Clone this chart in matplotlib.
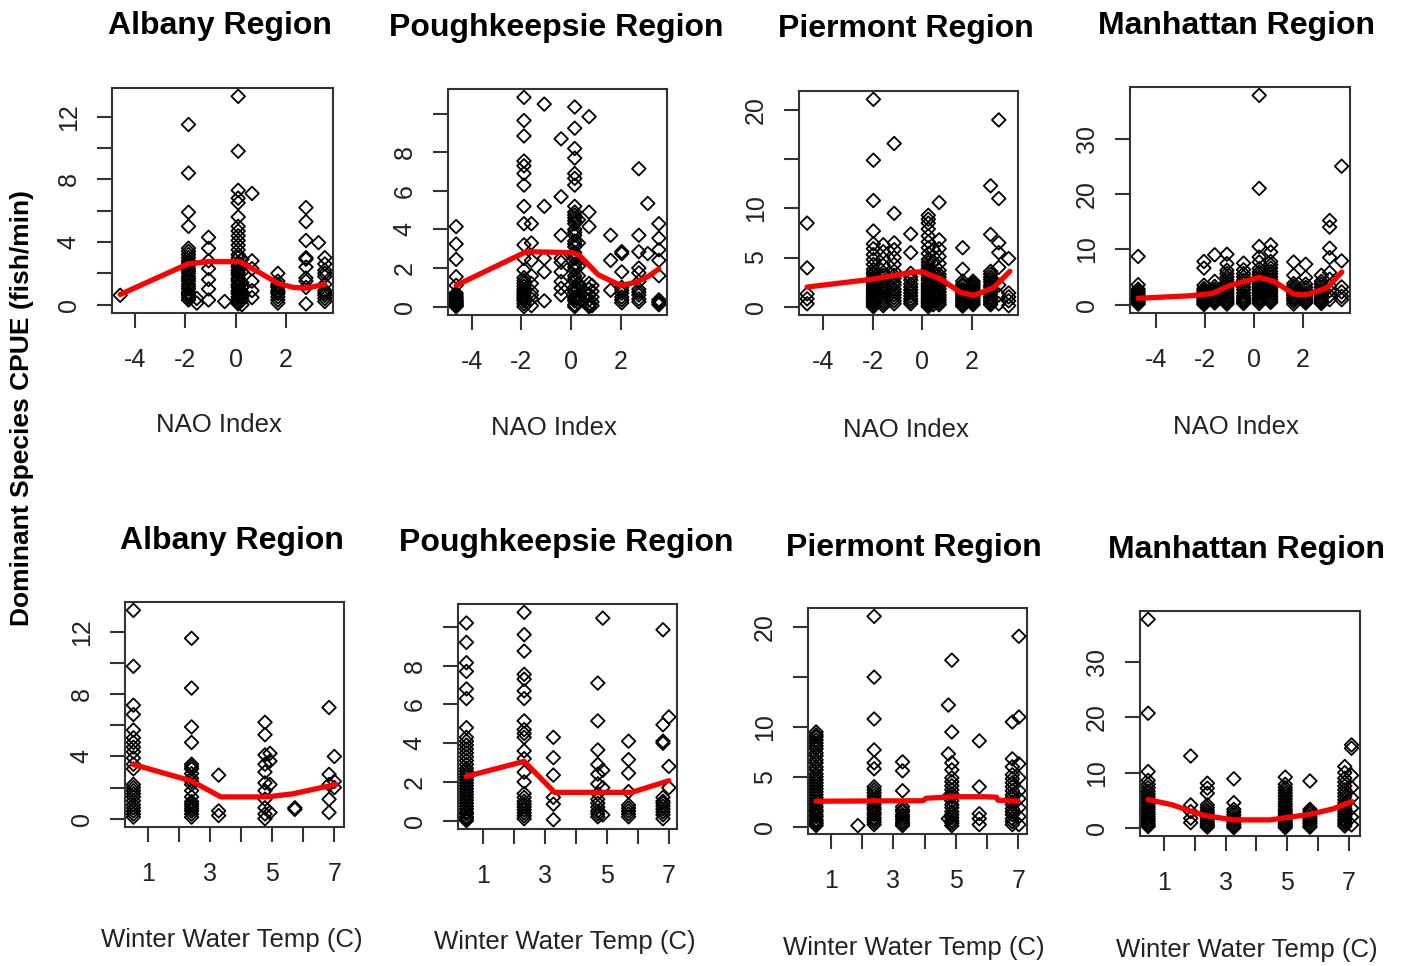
import numpy as np
import matplotlib
matplotlib.use("Agg")
import matplotlib.pyplot as plt

plt.rcParams['font.family'] = ['Liberation Sans', 'DejaVu Sans']

# ---------------------------------------------------------------------------
# CPUE by survey year, grouped on the year's NAO index / winter water temp

alb_nao_x = [-4.6, -1.88, -1.55, -1.08, -0.44, 0.1, 0.25, 0.65, 1.68, 2.8, 3.3, 3.55]
alb_nao_y = [[0.6],
             [11.5, 8.4, 5.9, 5.0, 3.6, 3.4, 3.2, 3.0, 2.8, 2.65, 2.5, 2.3, 2.15, 2.0, 1.8, 1.65, 1.5, 1.3,
              1.15, 1.0, 0.8, 0.7, 0.6, 0.45, 0.3],
             [0.1, 0.4],
             [4.3, 3.6, 2.8, 2.3, 1.6, 1.0, 0.3],
             [0.2],
             [13.3, 9.8, 7.3, 6.8, 6.5, 5.6, 5.0, 4.7, 4.4, 4.1, 3.8, 3.5, 3.2, 3.0, 2.7, 2.55, 2.4, 2.2, 2.05,
              1.9, 1.7, 1.6, 1.5, 1.3, 1.2, 1.1, 0.9, 0.8, 0.7, 0.5, 0.35, 0.2, 0.05],
             [2.9, 2.1, 1.4, 1.1, 0.8, 0.5, 0.3, 0.0],
             [7.1, 2.8, 2.3, 1.5, 0.9, 0.45],
             [2.0, 1.5, 1.3, 1.2, 1.1, 0.9, 0.8, 0.7, 0.5, 0.3, 0.1],
             [6.2, 5.3, 4.1, 3.0, 2.9, 2.4, 1.7, 1.5, 1.1, 0.05],
             [3.96],
             [3.0, 2.6, 2.2, 2.0, 1.8, 1.3, 0.9, 0.75, 0.6, 0.4, 0.2]]
alb_nao_fit_x = [-4.6, -1.9, -1.1, 0.15, 1.0, 1.7, 2.3, 2.8, 3.55]
alb_nao_fit_y = [0.65, 2.6, 2.75, 2.75, 2.0, 1.35, 1.1, 1.05, 1.3]

pok_nao_x = [-4.64, -1.9, -1.6, -1.08, -0.4, 0.15, 0.3, 0.73, 0.85, 1.6, 2.05, 2.74, 3.1, 3.55]
pok_nao_y = [[4.15, 3.25, 2.45, 1.55, 1.1, 0.7, 0.6, 0.5, 0.45, 0.35, 0.3, 0.25, 0.2, 0.15, 0.1, 0.05, 0.0],
             [10.85, 9.65, 8.85, 7.55, 7.3, 6.9, 6.3, 5.2, 4.3, 3.2, 2.5, 1.9, 1.5, 1.35, 1.2, 1.05, 0.9, 0.8,
              0.7, 0.6, 0.5, 0.4, 0.3, 0.15, 0.0],
             [4.3, 3.3, 2.4, 1.6, 1.2, 0.8, 0.6, 0.4, 0.05],
             [10.5, 5.2, 2.5, 1.8, 0.3],
             [8.7, 5.7, 3.7, 2.5, 2.3, 1.8, 1.3, 0.95, 0.6],
             [10.35, 9.25, 8.2, 7.7, 6.9, 6.65, 6.3, 5.2, 4.9, 4.75, 4.6, 4.45, 4.3, 4.0, 3.85, 3.7, 3.4, 3.25,
              3.1, 2.8, 2.65, 2.5, 2.2, 2.05, 1.9, 1.6, 1.45, 1.3, 1.0, 0.85, 0.75, 0.5, 0.4, 0.3, 0.1, 0.0],
             [4.5, 3.3, 2.1, 1.6, 1.2, 0.9, 0.6, 0.4, 0.2],
             [9.85, 4.9, 4.15, 1.2, 0.9, 0.6, 0.35, 0.1, 0.0],
             [1.1, 0.8, 0.5, 0.25, 0.05],
             [3.7, 2.4, 0.85],
             [2.85, 2.75, 1.8, 1.0, 0.85, 0.7, 0.5, 0.35, 0.2],
             [7.15, 3.7, 2.85, 2.0, 1.75, 1.3, 0.9, 0.75, 0.6, 0.4, 0.25],
             [5.35, 2.75],
             [4.3, 3.55, 2.95, 2.4, 1.6, 0.35, 0.25, 0.2, 0.1]]
pok_nao_fit_x = [-4.64, -1.8, 0.05, 0.35, 1.1, 2.0, 2.6, 3.1, 3.55]
pok_nao_fit_y = [1.1, 2.85, 2.8, 2.65, 1.65, 1.1, 1.25, 1.55, 1.95]

pie_nao_x = [-4.65, -1.97, -1.57, -1.13, -0.46, 0.25, 0.45, 0.69, 1.64, 2.06, 2.77, 3.1, 3.5]
pie_nao_y = [[8.5, 3.95, 1.3, 0.8, 0.3],
             [21.1, 14.9, 10.8, 7.7, 6.4, 5.9, 5.3, 4.8, 4.3, 3.8, 3.5, 3.3, 3.0, 2.8, 2.6, 2.4, 2.2, 2.0,
              1.8, 1.6, 1.4, 1.2, 1.0, 0.8, 0.65, 0.5, 0.35, 0.2, 0.0],
             [6.3, 5.6, 4.9, 4.2, 3.5, 3.2, 2.9, 2.6, 2.3, 2.0, 1.7, 1.4, 1.1, 0.85, 0.6, 0.35, 0.1],
             [16.6, 9.5, 6.5, 5.8, 5.0, 4.3, 3.6, 3.2, 2.9, 2.5, 2.2, 1.8, 1.5, 1.2, 0.9, 0.6, 0.3],
             [7.4, 5.5, 3.4, 3.0, 2.7, 2.3, 2.0, 1.7, 1.4, 1.1, 0.8, 0.55, 0.3],
             [9.3, 8.9, 8.5, 7.9, 7.2, 6.6, 6.0, 5.4, 4.8, 4.5, 4.2, 3.9, 3.7, 3.4, 3.2, 2.9, 2.7, 2.4,
              2.2, 2.0, 1.8, 1.6, 1.4, 1.2, 1.0, 0.8, 0.6, 0.45, 0.3, 0.15, 0.0],
             [5.8, 4.6, 3.5, 2.6, 1.9, 1.2, 0.6, 0.2],
             [10.6, 6.8, 5.9, 5.1, 4.4, 3.7, 3.3, 3.0, 2.7, 2.4, 2.1, 1.8, 1.5, 1.2, 0.95, 0.7, 0.45, 0.2],
             [6.0, 3.8, 2.6, 2.3, 2.1, 1.8, 1.6, 1.4, 1.2, 1.0, 0.8, 0.6, 0.4, 0.2, 0.05],
             [2.6, 2.4, 2.2, 2.0, 1.8, 1.6, 1.4, 1.2, 1.0, 0.8, 0.6, 0.4, 0.2],
             [12.3, 7.35, 3.6, 3.3, 3.0, 2.75, 2.5, 2.2, 2.0, 1.75, 1.5, 1.25, 1.0, 0.8, 0.6, 0.4, 0.2],
             [19.0, 11.0, 6.5, 5.5, 4.0, 2.2, 1.2, 0.3],
             [4.9, 1.4, 1.0, 0.6, 0.1]]
pie_nao_fit_x = [-4.65, -2.0, -0.4, 0.0, 0.75, 1.55, 2.1, 2.9, 3.55]
pie_nao_fit_y = [2.0, 2.8, 3.5, 3.55, 2.8, 1.45, 1.15, 1.95, 3.6]

man_nao_x = [-4.73, -2.04, -1.6, -1.1, -0.42, 0.22, 0.69, 1.63, 2.12, 2.76, 3.1, 3.59]
man_nao_y = [[8.7, 3.6, 2.8, 2.4, 2.0, 1.7, 1.4, 1.1, 0.9, 0.6, 0.4, 0.1],
             [7.8, 6.6, 3.5, 2.9, 2.6, 2.3, 2.0, 1.8, 1.5, 1.2, 0.9, 0.7, 0.5, 0.3, 0.0],
             [9.0, 4.2, 3.3, 2.8, 2.4, 2.0, 1.6, 1.2, 0.9, 0.6, 0.3],
             [9.1, 7.4, 6.2, 5.6, 5.0, 4.5, 4.0, 3.5, 3.0, 2.6, 2.2, 1.8, 1.4, 1.0, 0.7, 0.4, 0.1],
             [7.5, 6.3, 5.6, 5.0, 4.4, 3.8, 3.2, 2.7, 2.1, 1.6, 1.2, 0.8, 0.5, 0.2],
             [37.8, 21.0, 10.5, 8.6, 7.7, 6.5, 5.9, 5.4, 4.9, 4.5, 4.0, 3.6, 3.2, 2.8, 2.4, 2.0, 1.6, 1.2,
              0.9, 0.6, 0.2],
             [10.8, 9.5, 7.8, 7.2, 6.6, 6.0, 5.5, 5.0, 4.5, 4.0, 3.6, 3.1, 2.7, 2.3, 1.9, 1.5, 1.1, 0.7, 0.4],
             [7.7, 5.3, 3.8, 3.3, 2.9, 2.5, 2.1, 1.7, 1.3, 1.0, 0.6, 0.1],
             [7.3, 4.9, 3.7, 3.1, 2.6, 2.1, 1.7, 1.3, 0.9, 0.6, 0.3],
             [5.3, 4.2, 3.7, 3.2, 2.7, 2.3, 1.9, 1.5, 1.1, 0.8, 0.5, 0.2],
             [15.2, 14.0, 10.2, 8.5, 5.8, 4.6, 3.4, 2.5, 1.6, 0.9],
             [25.0, 7.9, 3.2, 2.3, 1.5, 0.9]]
man_nao_fit_x = [-4.73, -4.0, -2.6, -1.7, -0.95, 0.22, 0.83, 1.63, 2.17, 2.99, 3.6]
man_nao_fit_y = [1.15, 1.3, 1.6, 2.0, 3.5, 4.9, 4.2, 1.9, 1.8, 3.0, 5.9]

alb_temp_x = [0.54, 2.41, 3.28, 4.77, 4.93, 5.73, 6.83, 7.0]
alb_temp_y = [[13.4, 9.8, 7.3, 6.7, 5.7, 5.2, 4.9, 4.6, 4.3, 3.9, 3.5, 3.2, 2.2, 2.0, 1.8, 1.6, 1.4,
               1.15, 0.9, 0.7, 0.5, 0.3, 0.1],
              [11.6, 8.4, 5.9, 4.9, 3.5, 3.35, 3.2, 2.9, 2.6, 2.4, 2.2, 1.8, 1.4, 1.1, 0.95, 0.8, 0.65, 0.5,
               0.3, 0.1],
              [2.8, 0.5, 0.2],
              [6.2, 5.4, 4.1, 3.5, 3.0, 2.3, 1.8, 1.25, 0.7, 0.3, 0.0],
              [4.2, 3.7, 2.2, 0.4],
              [0.7, 0.6],
              [7.15, 2.85, 2.2, 1.25, 0.4],
              [4.0, 2.4, 2.0]]
alb_temp_fit_x = [0.53, 2.4, 3.35, 4.83, 5.67, 7.05]
alb_temp_fit_y = [3.49, 2.43, 1.4, 1.4, 1.6, 2.2]

pok_temp_x = [0.48, 2.34, 3.28, 4.71, 4.87, 5.7, 6.81, 7.0]
pok_temp_y = [[10.2, 9.2, 8.15, 7.7, 6.8, 6.3, 4.8, 4.3, 4.1, 3.9, 3.7, 3.5, 3.3, 3.1, 2.9, 2.7, 2.55, 2.4,
               2.25, 2.1, 1.95, 1.8, 1.65, 1.5, 1.35, 1.2, 1.05, 0.9, 0.75, 0.6, 0.45, 0.35, 0.2, 0.1, 0.0],
              [10.75, 9.6, 8.75, 7.55, 7.3, 6.7, 6.3, 5.15, 4.7, 4.5, 4.3, 3.6, 3.2, 2.5, 2.0, 1.4, 1.2,
               1.0, 0.85, 0.7, 0.55, 0.4, 0.25, 0.1],
              [4.3, 3.25, 2.35, 1.2, 0.85, 0.05],
              [7.1, 5.15, 3.65, 2.9, 2.4, 1.9, 1.4, 1.1, 0.9, 0.7, 0.5, 0.35, 0.2],
              [10.45, 2.6, 1.7, 0.3],
              [4.1, 3.15, 2.45, 1.5, 0.8, 0.65, 0.5, 0.35, 0.2],
              [9.85, 4.95, 4.1, 4.0, 1.2, 1.0, 0.9, 0.75, 0.6, 0.45, 0.3, 0.1],
              [5.35, 2.8, 1.7]]
pok_temp_fit_x = [0.47, 2.34, 3.32, 5.8, 7.0]
pok_temp_fit_y = [2.28, 3.06, 1.46, 1.46, 2.06]

pie_temp_x = [0.52, 1.86, 2.38, 3.29, 4.76, 4.87, 5.75, 6.81, 7.02]
pie_temp_y = [[9.5, 9.2, 9.0, 8.7, 8.4, 8.1, 7.8, 7.4, 7.1, 6.7, 6.4, 6.0, 5.7, 5.3, 5.0, 4.7, 4.4, 4.1,
               3.8, 3.5, 3.2, 2.9, 2.6, 2.3, 2.0, 1.7, 1.5, 1.2, 1.0, 0.7, 0.5, 0.3, 0.1],
              [0.1],
              [21.1, 15.0, 10.8, 7.7, 6.4, 5.8, 4.0, 3.7, 3.4, 3.1, 2.8, 2.5, 2.2, 1.9, 1.7, 1.4, 1.2, 0.9,
               0.7, 0.45, 0.2],
              [6.5, 5.6, 3.6, 2.0, 1.7, 1.5, 1.2, 1.0, 0.75, 0.5, 0.3, 0.1],
              [12.2, 7.3, 3.0, 0.8],
              [16.7, 9.5, 6.4, 5.7, 4.9, 4.5, 4.1, 3.7, 3.3, 3.0, 2.6, 2.2, 1.9, 1.5, 1.2, 0.9, 0.6, 0.35, 0.1],
              [8.6, 4.0, 1.3, 0.8, 0.2],
              [10.5, 6.8, 6.0, 5.2, 4.8, 4.4, 4.0, 3.6, 3.2, 2.9, 2.5, 2.2, 1.8, 1.5, 1.2, 0.8, 0.5, 0.2],
              [19.1, 11.0, 6.3, 4.9, 3.6, 2.8, 1.9, 1.0, 0.2]]
pie_temp_fit_x = [0.52, 3.95, 4.05, 5.0, 5.9, 6.3, 6.35, 7.0]
pie_temp_fit_y = [2.55, 2.6, 2.85, 3.0, 3.0, 2.95, 2.65, 2.55]

man_temp_x = [0.49, 1.87, 2.41, 3.27, 4.94, 5.74, 6.87, 7.09]
man_temp_y = [[37.6, 20.7, 10.2, 8.6, 7.9, 7.3, 6.7, 6.2, 5.7, 5.2, 4.7, 4.3, 3.8, 3.4, 2.9, 2.5, 2.1,
               1.7, 1.3, 0.9, 0.6, 0.3],
              [13.0, 4.2, 3.0, 1.8, 1.0],
              [8.1, 7.2, 6.3, 4.2, 3.7, 3.2, 2.8, 2.4, 2.0, 1.6, 1.2, 0.8, 0.5, 0.2],
              [8.9, 4.6, 3.4, 2.9, 2.4, 1.9, 1.5, 1.1, 0.7, 0.4, 0.1],
              [9.2, 7.9, 7.3, 6.8, 6.3, 5.8, 5.3, 4.8, 4.3, 3.9, 3.4, 3.0, 2.6, 2.2, 1.8, 1.4, 1.0, 0.7,
               0.4, 0.1],
              [8.5, 3.4, 3.0, 2.6, 2.1, 1.7, 1.3, 0.9, 0.5, 0.2],
              [11.1, 10.0, 9.0, 8.3, 7.6, 6.9, 6.3, 5.7, 5.1, 4.5, 4.0, 3.5, 3.0, 2.5, 2.1, 1.6, 1.2,
               0.8, 0.4],
              [15.0, 14.4, 9.5, 7.3, 5.5, 3.6, 2.0, 0.6]]
man_temp_fit_x = [0.49, 1.24, 2.3, 3.27, 4.45, 5.74, 6.5, 7.1]
man_temp_fit_y = [5.15, 4.25, 2.3, 1.5, 1.5, 2.5, 3.5, 4.8]

regions = ["Albany Region", "Poughkeepsie Region", "Piermont Region", "Manhattan Region"]

nao_ticks = [-4, -2, 0, 2]
nao_labels = ["-4", "-2", "0", "2"]
temp_ticks = [1, 2, 3, 4, 5, 6, 7]
temp_labels = ["1", "", "3", "", "5", "", "7"]

y_ticks = [[0, 2, 4, 6, 8, 10, 12], [0, 2, 4, 6, 8, 10], [0, 5, 10, 15, 20], [0, 10, 20, 30]]
y_labels = [["0", "", "4", "", "8", "", "12"], ["0", "2", "4", "6", "8", ""],
            ["0", "5", "10", "", "20"], ["0", "10", "20", "30"]]

# ---------------------------------------------------------------------------

W, H = 1403, 966
fig = plt.figure(figsize=(W / 100, H / 100), dpi=100)
TXT = '#222222'


def add_box(l, t, r, b):
    return fig.add_axes([l / W, 1 - b / H, (r - l) / W, (b - t) / H])


def put_text(x, y, s, **kw):
    fig.text(x / W, 1 - y / H, s, ha='center', va='center', **kw)


def draw_panel(ax, gx, gy, fx, fy, xt, xl, yt, yl):
    xs = np.concatenate([np.full(len(v), g) for g, v in zip(gx, gy)])
    ys = np.concatenate([np.asarray(v, float) for v in gy])
    ax.scatter(xs, ys, marker='D', s=48, facecolors='none', edgecolors='black',
               linewidths=1.3, zorder=2)
    ax.plot(fx, fy, color='#ff0000', lw=3.8, solid_capstyle='round', zorder=3)
    ax.margins(0.04)
    ax.set_xticks(xt)
    ax.set_xticklabels(xl)
    ax.set_yticks(yt)
    ax.set_yticklabels(yl, rotation=90, va='center')
    ax.tick_params(axis='both', length=10.5, width=1.5, color='#333333',
                   labelsize=18, labelcolor=TXT)
    ax.tick_params(axis='x', pad=15)
    ax.tick_params(axis='y', pad=12)
    for sp in ax.spines.values():
        sp.set_linewidth(1.5)
        sp.set_color('#333333')


boxes_top = [(112, 88, 333, 313), (448, 89, 667, 315), (799, 91, 1018, 315), (1130, 87, 1350, 313)]
boxes_bot = [(125, 602, 344, 827), (458, 604, 677, 829), (808, 608, 1027, 834), (1140, 611, 1360, 836)]

top_data = [(alb_nao_x, alb_nao_y, alb_nao_fit_x, alb_nao_fit_y),
            (pok_nao_x, pok_nao_y, pok_nao_fit_x, pok_nao_fit_y),
            (pie_nao_x, pie_nao_y, pie_nao_fit_x, pie_nao_fit_y),
            (man_nao_x, man_nao_y, man_nao_fit_x, man_nao_fit_y)]
bot_data = [(alb_temp_x, alb_temp_y, alb_temp_fit_x, alb_temp_fit_y),
            (pok_temp_x, pok_temp_y, pok_temp_fit_x, pok_temp_fit_y),
            (pie_temp_x, pie_temp_y, pie_temp_fit_x, pie_temp_fit_y),
            (man_temp_x, man_temp_y, man_temp_fit_x, man_temp_fit_y)]

for i in range(4):
    draw_panel(add_box(*boxes_top[i]), *top_data[i], nao_ticks, nao_labels, y_ticks[i], y_labels[i])
    draw_panel(add_box(*boxes_bot[i]), *bot_data[i], temp_ticks, temp_labels, y_ticks[i], y_labels[i])

# panel titles and axis titles
title_top = [(220, 26), (556, 28), (906, 29), (1236, 26)]
title_bot = [(232, 541), (566, 543), (914, 548), (1246, 550)]
xlab_top = [(219, 425), (554, 428), (906, 430), (1236, 427)]
xlab_bot = [(232, 940), (565, 942), (914, 948), (1247, 950)]

for i in range(4):
    put_text(*title_top[i], regions[i], fontsize=23, fontweight='bold', color='black')
    put_text(*title_bot[i], regions[i], fontsize=23, fontweight='bold', color='black')
    put_text(*xlab_top[i], "NAO Index", fontsize=18.5, color=TXT)
    put_text(*xlab_bot[i], "Winter Water Temp (C)", fontsize=18.5, color=TXT)

put_text(22, 408, "Dominant Species CPUE (fish/min)", fontsize=19, fontweight='bold',
         rotation=90, color='black')

fig.savefig("out.png", dpi=100)
